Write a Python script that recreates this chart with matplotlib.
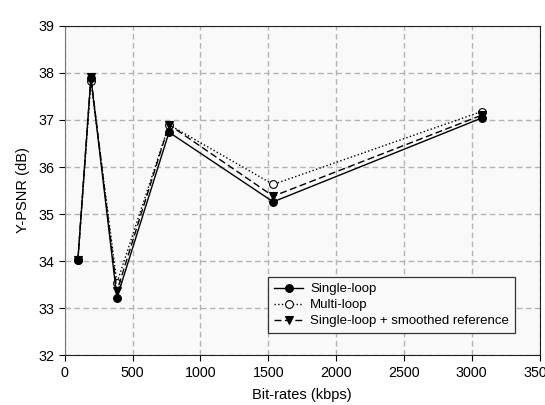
import matplotlib
matplotlib.use("Agg")
import matplotlib.pyplot as plt

plt.rcParams["font.family"] = ["Liberation Sans", "DejaVu Sans"]

# data
bitrates = [96, 192, 384, 768, 1536, 3072]
single_loop = [34.02, 37.90, 33.22, 36.74, 35.26, 37.04]
multi_loop = [34.02, 37.82, 33.54, 36.90, 35.63, 37.18]
smoothed_ref = [34.02, 37.92, 33.36, 36.90, 35.38, 37.10]
xticks = [0, 500, 1000, 1500, 2000, 2500, 3000, 3500]
yticks = [32, 33, 34, 35, 36, 37, 38, 39]

fig = plt.figure(figsize=(5.45, 4.05), dpi=100)
ax = fig.add_axes((0.119, 0.123, 0.871, 0.813))
ax.set_facecolor("#f9f9f9")
fig.patch.set_facecolor("white")

mk = dict(ms=5.6, mew=0.8, mec="black")
ax.plot(bitrates, single_loop, color="black", lw=1.0, ls="-", marker="o",
        mfc="black", label="Single-loop", zorder=3, **mk)
ax.plot(bitrates, multi_loop, color="black", lw=1.0, ls=":", marker="o",
        mfc="white", label="Multi-loop", zorder=2, **mk)
ax.plot(bitrates, smoothed_ref, color="black", lw=1.0, ls=(0, (5, 2.5)), marker="v",
        mfc="black", label="Single-loop + smoothed reference", zorder=3, **mk)

ax.set_xlim(0, 3500)
ax.set_ylim(32, 39)
ax.set_xticks(xticks)
ax.set_yticks(yticks)
ax.tick_params(direction="out", length=4, labelsize=10.3, width=0.8)
ax.grid(color="#b4b4b4", ls=(0, (4, 2.5)), lw=1.0, zorder=0)
for s in ax.spines.values():
    s.set_color("#222222")
ax.spines["left"].set_color("#777777")

ax.set_xlabel("Bit-rates (kbps)", fontsize=10.5, labelpad=6)
ax.set_ylabel("Y-PSNR (dB)", fontsize=10.5, labelpad=6)

leg = ax.legend(loc="lower right", bbox_to_anchor=(0.948, 0.067), fontsize=9.5,
                frameon=True, fancybox=False, handlelength=2.2, handletextpad=0.5,
                borderpad=0.45, labelspacing=0.28, borderaxespad=0)
leg.get_frame().set_edgecolor("#333333")
leg.get_frame().set_linewidth(0.9)
leg.get_frame().set_facecolor("#f9f9f9")
leg.get_frame().set_alpha(1)

fig.savefig("out.png", dpi=100)
